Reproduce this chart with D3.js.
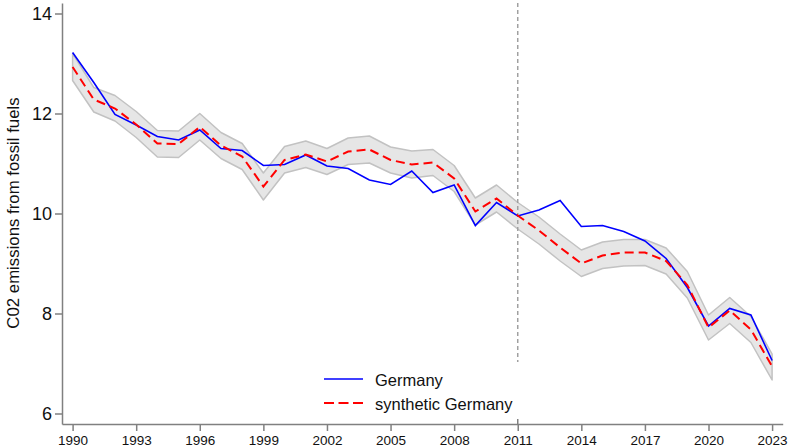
<!DOCTYPE html>
<html>
<head>
<meta charset="utf-8">
<script src="https://cdn.jsdelivr.net/npm/d3@7"></script>
<style>
  html, body { margin: 0; padding: 0; background: #fff; }
  svg { display: block; font-family: "Liberation Sans", Arial, Helvetica, sans-serif; }
</style>
</head>
<body>
<svg id="chart" width="790" height="448"></svg>
<script>
const years = d3.range(1990, 2024);
const germany = [13.22, 12.62, 11.98, 11.77, 11.54, 11.47, 11.67, 11.30, 11.26, 10.96,
  10.98, 11.17, 10.95, 10.90, 10.67, 10.58, 10.85, 10.42, 10.57, 9.76,
  10.22, 9.95, 10.07, 10.26, 9.74, 9.76, 9.64, 9.45, 9.10, 8.52,
  7.75, 8.10, 7.97, 7.06];
const synthetic = [12.93, 12.28, 12.10, 11.78, 11.40, 11.39, 11.73, 11.36, 11.14, 10.54,
  11.07, 11.18, 11.04, 11.24, 11.28, 11.07, 10.98, 11.02, 10.70, 10.04,
  10.30, 9.96, 9.66, 9.32, 9.00, 9.16, 9.22, 9.22, 9.05, 8.57,
  7.72, 8.06, 7.68, 6.94];
const bandUpper = [13.20, 12.52, 12.36, 12.04, 11.66, 11.65, 12.00, 11.62, 11.40, 10.81,
  11.34, 11.45, 11.30, 11.51, 11.55, 11.33, 11.25, 11.28, 10.96, 10.31,
  10.57, 10.22, 9.93, 9.59, 9.27, 9.43, 9.48, 9.48, 9.31, 8.84,
  7.97, 8.32, 7.94, 7.19];
const bandLower = [12.66, 12.03, 11.85, 11.52, 11.13, 11.12, 11.47, 11.10, 10.88, 10.27,
  10.81, 10.92, 10.78, 10.98, 11.01, 10.81, 10.71, 10.76, 10.44, 9.77,
  10.03, 9.69, 9.39, 9.05, 8.74, 8.90, 8.95, 8.96, 8.79, 8.31,
  7.47, 7.80, 7.42, 6.67];
const xTicks = [1990, 1993, 1996, 1999, 2002, 2005, 2008, 2011, 2014, 2017, 2020, 2023];
const yTicks = [6, 8, 10, 12, 14];
const treatmentYear = 2011;
const legendLabels = ["Germany", "synthetic Germany"];
const yTitle = "C02 emissions from fossil fuels";

const svg = d3.select("#chart");
const x = d3.scaleLinear().domain([1989.5, 2023.5]).range([62, 782.7]);
const y = d3.scaleLinear().domain([5.79, 14.21]).range([424, 3]);

// band
const bandData = years.map((yr, i) => ({yr, lo: bandLower[i], hi: bandUpper[i]}));
svg.append("path")
  .datum(bandData)
  .attr("d", d3.area().x(d => x(d.yr)).y0(d => y(d.lo)).y1(d => y(d.hi)))
  .attr("fill", "#e6e6e6")
  .attr("stroke", "#c2c2c2")
  .attr("stroke-width", 1.5)
  .attr("stroke-linejoin", "round");

// treatment line
svg.append("line")
  .attr("x1", x(treatmentYear)).attr("x2", x(treatmentYear))
  .attr("y1", 3).attr("y2", 362)
  .attr("stroke", "#a0a0a0").attr("stroke-width", 1.5)
  .attr("stroke-dasharray", "4,3");

// lines
const line = d3.line().x(d => x(d[0])).y(d => y(d[1]));
svg.append("path")
  .datum(years.map((yr, i) => [yr, germany[i]]))
  .attr("d", line).attr("fill", "none")
  .attr("stroke", "#0000ff").attr("stroke-width", 1.6);
svg.append("path")
  .datum(years.map((yr, i) => [yr, synthetic[i]]))
  .attr("d", line).attr("fill", "none")
  .attr("stroke", "#ff0000").attr("stroke-width", 2)
  .attr("stroke-dasharray", "9,5");

// axes
const yAxis = svg.append("g").attr("transform", "translate(62,0)")
  .call(d3.axisLeft(y).tickValues(yTicks).tickSize(7).tickPadding(3).tickSizeOuter(0));
yAxis.selectAll("text").attr("font-size", 18).attr("fill", "#111");
const xAxis = svg.append("g").attr("transform", "translate(0,424)")
  .call(d3.axisBottom(x).tickValues(xTicks).tickFormat(d3.format("d")).tickSize(7).tickPadding(4).tickSizeOuter(0));
xAxis.selectAll("text").attr("font-size", 13.5).attr("fill", "#111");
// small mark above the axis at the treatment year
xAxis.append("line")
  .attr("x1", x(treatmentYear)).attr("x2", x(treatmentYear))
  .attr("y1", -5).attr("y2", 0);
svg.selectAll(".domain, .tick line").attr("stroke", "#808080").attr("stroke-width", 1.5);
xAxis.selectAll(":scope > line").attr("stroke", "#808080").attr("stroke-width", 1.5);

// y title
svg.append("text")
  .attr("transform", "translate(19,213) rotate(-90)")
  .attr("text-anchor", "middle")
  .attr("font-size", 16.8).attr("fill", "#111")
  .text(yTitle);

// legend
const lg = svg.append("g");
lg.append("line").attr("x1", 324).attr("x2", 363).attr("y1", 379).attr("y2", 379)
  .attr("stroke", "#0000ff").attr("stroke-width", 1.6);
lg.append("line").attr("x1", 324).attr("x2", 363).attr("y1", 403).attr("y2", 403)
  .attr("stroke", "#ff0000").attr("stroke-width", 2).attr("stroke-dasharray", "10,4.5");
lg.append("text").attr("x", 375).attr("y", 385.5).attr("font-size", 16.5).attr("fill", "#111").text(legendLabels[0]);
lg.append("text").attr("x", 375).attr("y", 409.5).attr("font-size", 16.5).attr("fill", "#111").text(legendLabels[1]);
</script>
</body>
</html>
